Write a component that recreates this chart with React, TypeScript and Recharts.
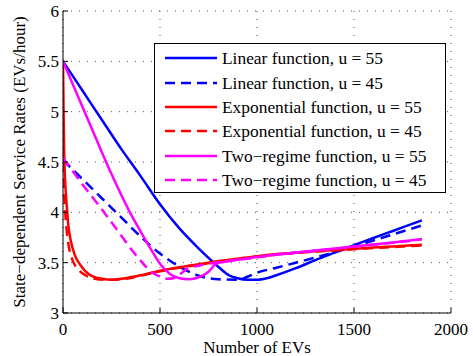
import React from 'react';
import { LineChart, Line, XAxis, YAxis, CartesianGrid, Legend } from 'recharts';

const FONT = '"Liberation Serif", "Times New Roman", serif';

const xTicks = [0, 500, 1000, 1500, 2000];
const yTicks = [3, 3.5, 4, 4.5, 5, 5.5, 6];

const linear55X = [0, 100, 200, 300, 400, 500, 600, 700, 760, 800, 860, 900, 950, 1000, 1050, 1100, 1200, 1300, 1400, 1500, 1600, 1700, 1800, 1850];
const linear55Y = [5.5, 5.21, 4.92, 4.63, 4.36, 4.08, 3.84, 3.64, 3.53, 3.46, 3.37, 3.345, 3.33, 3.33, 3.345, 3.375, 3.445, 3.525, 3.6, 3.675, 3.745, 3.815, 3.885, 3.92];

const linear45X = [0, 100, 200, 300, 400, 500, 600, 700, 800, 900, 950, 1000, 1100, 1200, 1300, 1400, 1500, 1600, 1700, 1800, 1850];
const linear45Y = [4.52, 4.33, 4.14, 3.95, 3.76, 3.59, 3.46, 3.37, 3.335, 3.33, 3.36, 3.4, 3.45, 3.5, 3.55, 3.605, 3.66, 3.72, 3.78, 3.84, 3.87];

const exp55X = [0, 3, 6, 10, 15, 20, 27, 40, 60, 96, 130, 165, 200, 250, 300, 345, 400, 500, 600, 700, 800, 900, 1000, 1100, 1200, 1300, 1400, 1500, 1600, 1700, 1800, 1850];
const exp55Y = [5.5, 5.0, 4.6, 4.35, 4.18, 4.05, 3.88, 3.72, 3.58, 3.46, 3.39, 3.355, 3.34, 3.33, 3.34, 3.355, 3.375, 3.42, 3.455, 3.485, 3.515, 3.54, 3.565, 3.585, 3.6, 3.613, 3.625, 3.637, 3.65, 3.661, 3.672, 3.678];

const exp45X = [0, 5, 10, 20, 30, 50, 80, 120, 165, 220, 300, 400, 500, 600, 700, 800, 900, 1000, 1100, 1200, 1300, 1400, 1500, 1600, 1700, 1800, 1850];
const exp45Y = [4.5, 4.25, 4.05, 3.8, 3.66, 3.52, 3.43, 3.37, 3.34, 3.33, 3.335, 3.37, 3.415, 3.45, 3.48, 3.51, 3.535, 3.56, 3.58, 3.595, 3.61, 3.622, 3.633, 3.645, 3.655, 3.665, 3.67];

const two55X = [0, 100, 173, 250, 345, 400, 448, 500, 550, 600, 650, 700, 750, 790, 850, 900, 1000, 1100, 1200, 1300, 1400, 1500, 1600, 1700, 1800, 1850];
const two55Y = [5.5, 5.05, 4.72, 4.38, 4.0, 3.81, 3.65, 3.49, 3.39, 3.345, 3.335, 3.355, 3.41, 3.49, 3.515, 3.53, 3.555, 3.58, 3.6, 3.62, 3.64, 3.66, 3.68, 3.7, 3.722, 3.735];

const two45X = [0, 50, 100, 200, 300, 361, 400, 448, 500, 534, 570, 600, 640, 700, 800, 900, 1000, 1100, 1200, 1300, 1400, 1500, 1600, 1700, 1800, 1850];
const two45Y = [4.54, 4.41, 4.28, 4.03, 3.77, 3.61, 3.52, 3.42, 3.36, 3.34, 3.345, 3.38, 3.44, 3.47, 3.505, 3.528, 3.553, 3.578, 3.598, 3.618, 3.638, 3.658, 3.678, 3.698, 3.72, 3.732];

const zip = (xs: number[], ys: number[]) => xs.map((x, i) => ({ x, y: ys[i] }));

const series = [
  { name: 'Linear function, u = 55', color: '#0000ff', dash: undefined as string | undefined, data: zip(linear55X, linear55Y) },
  { name: 'Linear function, u = 45', color: '#0000ff', dash: '10 6', data: zip(linear45X, linear45Y) },
  { name: 'Exponential function, u = 55', color: '#ff0000', dash: undefined, data: zip(exp55X, exp55Y) },
  { name: 'Exponential function, u = 45', color: '#ff0000', dash: '10 6', data: zip(exp45X, exp45Y) },
  { name: 'Two\u2212regime function, u = 55', color: '#ff00ff', dash: undefined, data: zip(two55X, two55Y) },
  { name: 'Two\u2212regime function, u = 45', color: '#ff00ff', dash: '10 6', data: zip(two45X, two45Y) },
];

const renderLegend = () => (
  <div
    style={{
      width: 292,
      height: 150,
      boxSizing: 'border-box',
      border: '1px solid #000',
      background: '#fff',
      fontFamily: FONT,
      fontSize: 17.4,
      color: '#000',
      paddingTop: 2,
    }}
  >
    {series.map((s) => (
      <div key={s.name} style={{ display: 'flex', alignItems: 'center', height: 24.4, whiteSpace: 'nowrap' }}>
        <svg width={52} height={6} style={{ marginLeft: 10, marginRight: 5, display: 'block' }}>
          <line x1={0} y1={3} x2={52} y2={3} stroke={s.color} strokeWidth={2.5} strokeDasharray={s.dash} />
        </svg>
        <span style={{ lineHeight: '20px' }}>{s.name}</span>
      </div>
    ))}
  </div>
);

export default function App() {
  const tickStyle = { fontFamily: FONT, fontSize: 17, fill: '#000' };
  return (
    <div style={{ position: 'absolute', left: 0, top: 0 }}>
      <LineChart width={473} height={356} margin={{ top: 11, right: 22, bottom: 0, left: 3 }}>
        <CartesianGrid stroke="#555" strokeDasharray="1 7" />
        <XAxis
          type="number"
          dataKey="x"
          domain={[0, 2000]}
          ticks={xTicks}
          height={43}
          tickSize={-5}
          tickMargin={15}
          stroke="#000"
          tick={tickStyle}
          allowDataOverflow
          label={{ value: 'Number of EVs', position: 'insideBottom', offset: 3, style: { fontFamily: FONT, fontSize: 17, fill: '#000' } }}
        />
        <XAxis
          xAxisId="top"
          orientation="top"
          type="number"
          dataKey="x"
          domain={[0, 2000]}
          ticks={xTicks}
          height={0}
          mirror
          tickSize={5}
          tickFormatter={() => ''}
          stroke="#000"
        />
        <YAxis
          type="number"
          domain={[3, 6]}
          ticks={yTicks}
          width={60}
          tickSize={-5}
          tickMargin={9}
          stroke="#000"
          tick={tickStyle}
          allowDataOverflow
          label={{
            value: 'State\u2212dependent Service Rates (EVs/hour)',
            angle: -90,
            position: 'insideLeft',
            offset: 16,
            style: { fontFamily: FONT, fontSize: 17, fill: '#000', textAnchor: 'middle' },
          }}
        />
        <YAxis
          yAxisId="right"
          orientation="right"
          type="number"
          domain={[3, 6]}
          ticks={yTicks}
          width={0}
          mirror
          tickSize={5}
          tickFormatter={() => ''}
          stroke="#000"
        />
        {series.map((s) => (
          <Line
            key={s.name}
            data={s.data}
            dataKey="y"
            name={s.name}
            type="monotone"
            stroke={s.color}
            strokeWidth={2.5}
            strokeDasharray={s.dash}
            dot={false}
            activeDot={false}
            isAnimationActive={false}
          />
        ))}
        <Legend
          layout="vertical"
          align="center"
          verticalAlign="middle"
          content={renderLegend}
          wrapperStyle={{ left: 154, top: 43, width: 292, height: 150 }}
        />
      </LineChart>
    </div>
  );
}
